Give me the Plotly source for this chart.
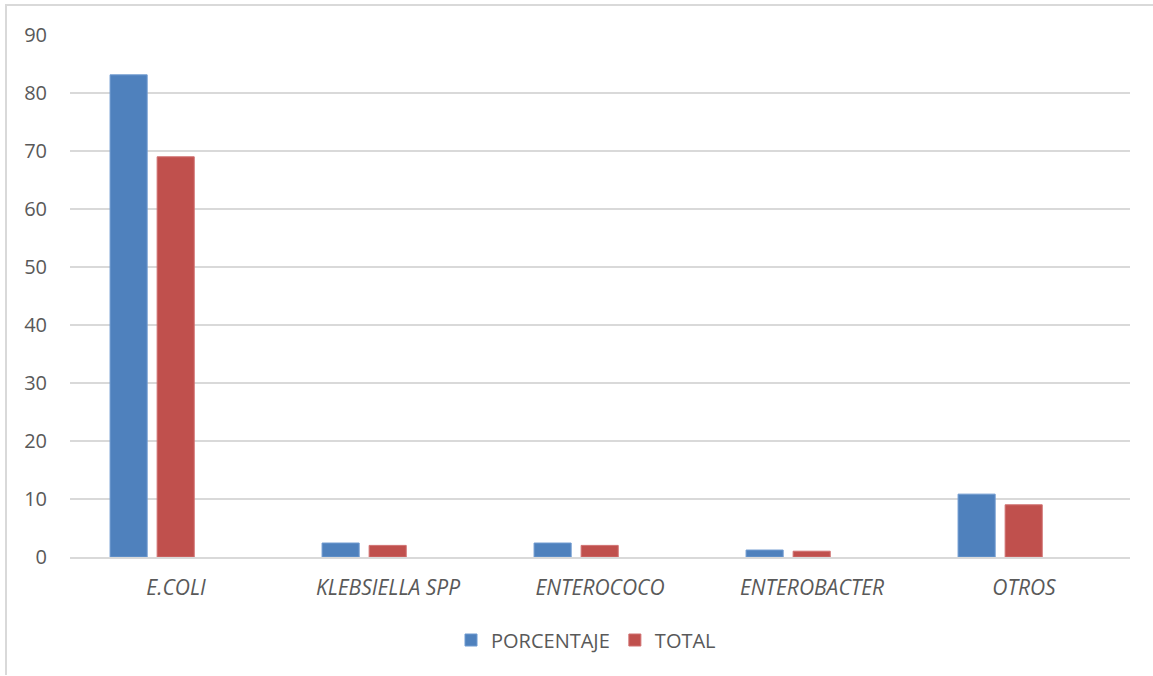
import plotly.graph_objects as go

categories = ["E.COLI", "KLEBSIELLA SPP", "ENTEROCOCO", "ENTEROBACTER", "OTROS"]
porcentaje = [83.13, 2.41, 2.41, 1.20, 10.84]
total = [69, 2, 2, 1, 9]
y_ticks = [0, 10, 20, 30, 40, 50, 60, 70, 80, 90]

W, H = 1153, 676
L, R, T, B = 70, 23, 35, 119
pw, ph = W - L - R, H - T - B

def px_x(x):
    return (x - L) / pw

def px_y(y):
    return (H - B - y) / ph

# bars sit in the first two of three slots per category
bar_w = 0.175
fig = go.Figure()
fig.add_trace(go.Bar(
    x=categories, y=porcentaje, name="PORCENTAJE",
    width=bar_w, offset=-0.311,
    marker=dict(color="#4f81bd", line=dict(color="#6f9ad0", width=1)),
))
fig.add_trace(go.Bar(
    x=categories, y=total, name="TOTAL",
    width=bar_w, offset=-0.089,
    marker=dict(color="#c0504d", line=dict(color="#d07070", width=1)),
))

# chart frame: top and left edges
frame = dict(color="#d9d9d9", width=2)
fig.add_shape(type="line", xref="paper", yref="paper",
              x0=px_x(5), x1=px_x(1160), y0=px_y(5), y1=px_y(5), line=frame)
fig.add_shape(type="line", xref="paper", yref="paper",
              x0=px_x(6), x1=px_x(6), y0=px_y(5), y1=px_y(675), line=frame)

fig.update_layout(
    width=W, height=H,
    margin=dict(l=L, r=R, t=T, b=B),
    paper_bgcolor="white", plot_bgcolor="white",
    barmode="group",
    font=dict(family="Open Sans, Liberation Sans, sans-serif", color="#595959", size=20),
    showlegend=True,
    legend=dict(orientation="h", x=px_x(586), xanchor="center", y=px_y(640), yanchor="middle",
                font=dict(size=20, color="#595959"), traceorder="normal", itemwidth=30),
    yaxis=dict(range=[0, 90], tickvals=y_ticks, showgrid=True, gridcolor="#d9d9d9",
               gridwidth=1.5, zeroline=False, showline=False, ticks="",
               ticklabelstandoff=22, tickfont=dict(size=20, color="#595959")),
    xaxis=dict(showline=True, linecolor="#d9d9d9", linewidth=1.5, ticks="",
               tickfont=dict(size=21, color="#595959", style="italic"),
               ticklabelstandoff=11),
)

fig.write_html("out.html")
